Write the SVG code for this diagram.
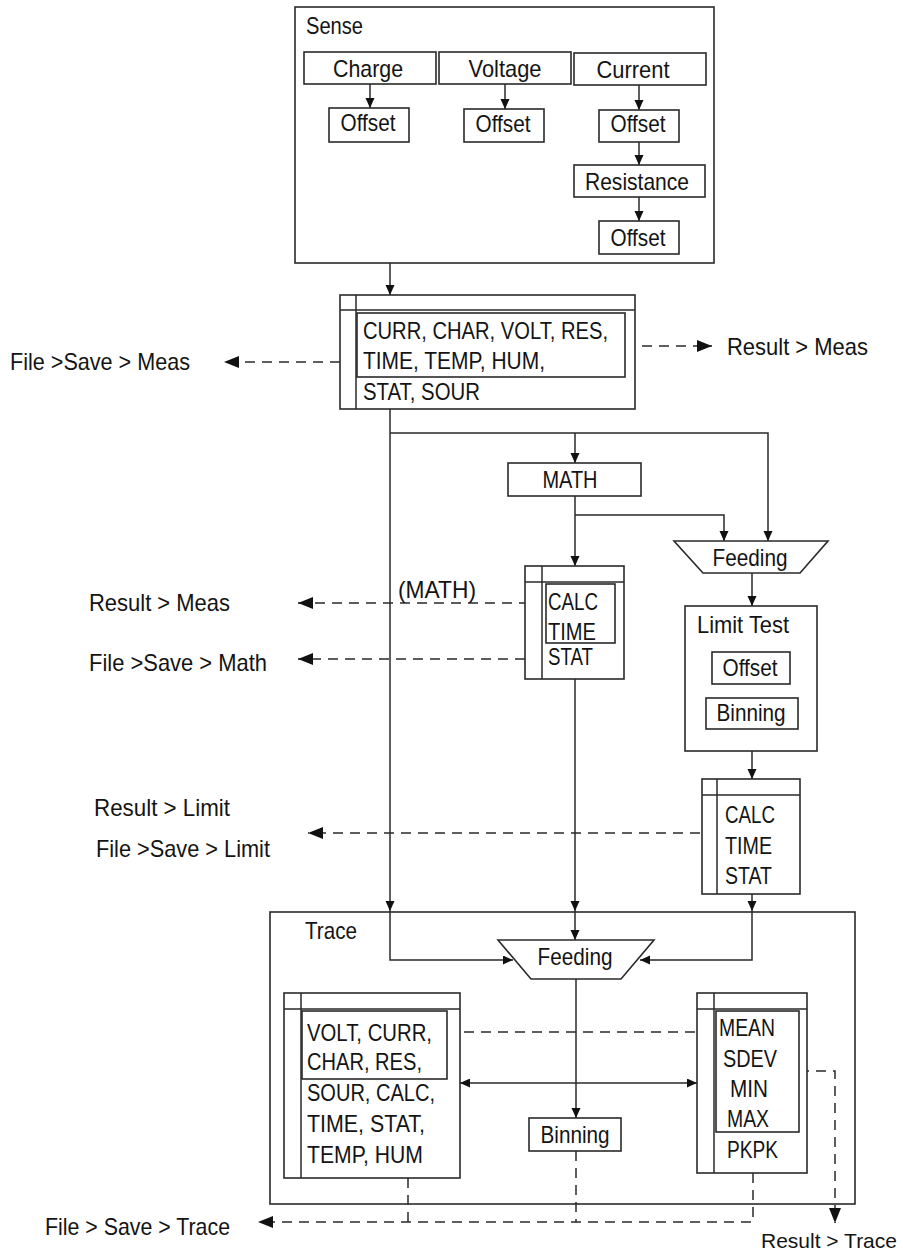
<svg xmlns="http://www.w3.org/2000/svg" width="903" height="1256" viewBox="0 0 903 1256">
<style>
text{font-family:"Liberation Sans",Arial,sans-serif;font-size:24px;fill:#141414}
.c{text-anchor:middle}
.box{fill:#fff;stroke:#2a2a2a;stroke-width:1.6}
.ln{fill:none;stroke:#2a2a2a;stroke-width:1.5}
.sl{fill:none;stroke:#2a2a2a;stroke-width:1.5;marker-end:url(#a)}
.dl{fill:none;stroke:#2a2a2a;stroke-width:1.5;stroke-dasharray:10 7}
</style>
<defs>
<marker id="a" markerUnits="userSpaceOnUse" markerWidth="10" markerHeight="10" refX="10" refY="4.5" orient="auto"><path d="M0,0 L10,4.5 L0,9 z" fill="#111"/></marker>
<marker id="as" markerUnits="userSpaceOnUse" markerWidth="10" markerHeight="10" refX="0" refY="4.5" orient="auto"><path d="M10,0 L0,4.5 L10,9 z" fill="#111"/></marker>
<marker id="b" markerUnits="userSpaceOnUse" markerWidth="16" markerHeight="13" refX="15" refY="6" orient="auto"><path d="M0,0 L15,6 L0,12 z" fill="#111"/></marker>
</defs>

<g id="connectors">
<path class="sl" d="M370,84 V108"/>
<path class="sl" d="M505,84 V109"/>
<path class="sl" d="M639,85 V110"/>
<path class="sl" d="M639,142 V165"/>
<path class="sl" d="M639,197 V221"/>
<path class="sl" d="M390,263 V295"/>
<path class="sl" d="M390,409 V911"/>
<path class="sl" d="M390,911 V960 H513"/>
<path class="sl" d="M390,433 H768 V541"/>
<path class="sl" d="M575,433 V463"/>
<path class="sl" d="M575,496 V566"/>
<path class="sl" d="M575,515 H724 V541"/>
<path class="sl" d="M575,679 V911"/>
<path class="sl" d="M575,911 V940"/>
<path class="sl" d="M752,573 V606"/>
<path class="sl" d="M752,751 V779"/>
<path class="sl" d="M752,894 V911"/>
<path class="sl" d="M752,911 V960 H640"/>
<path class="sl" d="M576,979 V1118"/>
<path class="ln" d="M460,1083 H697" marker-start="url(#as)" marker-end="url(#a)"/>
<path class="dl" d="M357,362 H224" marker-end="url(#b)"/>
<path class="dl" d="M625,346 H712" marker-end="url(#b)"/>
<path class="dl" d="M546,603 H298" marker-end="url(#b)"/>
<path class="dl" d="M542,659 H298" marker-end="url(#b)"/>
<path class="dl" d="M717,833 H308" marker-end="url(#b)"/>
<path class="dl" d="M447,1032 H713" marker-end="url(#b)"/>
<path class="dl" d="M799,1071 H835 V1223" marker-end="url(#b)"/>
<path class="dl" d="M408,1178 V1222"/>
<path class="dl" d="M576,1151 V1222"/>
<path class="dl" d="M753,1173 V1222 H258" marker-end="url(#b)"/>
</g>

<g id="sense">
<rect class="box" x="295" y="7" width="419" height="256" style="fill:none"/>
<text x="306" y="34" textLength="57" lengthAdjust="spacingAndGlyphs">Sense</text>
</g>
<g id="charge"><rect class="box" x="304" y="52" width="132" height="32"/><text class="c" x="368" y="77" textLength="70" lengthAdjust="spacingAndGlyphs">Charge</text></g>
<g id="voltage"><rect class="box" x="439" y="52" width="132" height="32"/><text class="c" x="505" y="77" textLength="73" lengthAdjust="spacingAndGlyphs">Voltage</text></g>
<g id="current"><rect class="box" x="574" y="53" width="132" height="32"/><text class="c" x="633" y="78" textLength="73" lengthAdjust="spacingAndGlyphs">Current</text></g>
<g id="offset-charge"><rect class="box" x="329" y="108" width="80" height="34"/><text class="c" x="368" y="131" textLength="55" lengthAdjust="spacingAndGlyphs">Offset</text></g>
<g id="offset-voltage"><rect class="box" x="464" y="109" width="80" height="33"/><text class="c" x="503" y="132" textLength="55" lengthAdjust="spacingAndGlyphs">Offset</text></g>
<g id="offset-current"><rect class="box" x="599" y="110" width="80" height="32"/><text class="c" x="638" y="132" textLength="55" lengthAdjust="spacingAndGlyphs">Offset</text></g>
<g id="resistance"><rect class="box" x="574" y="165" width="131" height="32"/><text class="c" x="637" y="190" textLength="104" lengthAdjust="spacingAndGlyphs">Resistance</text></g>
<g id="offset-resistance"><rect class="box" x="599" y="221" width="80" height="33"/><text class="c" x="638" y="246" textLength="55" lengthAdjust="spacingAndGlyphs">Offset</text></g>

<g id="meas-buffer">
<rect class="box" x="340" y="295" width="295" height="114"/>
<path class="ln" d="M356,295 V409 M340,310 H635"/>
<rect class="box" x="357" y="313" width="268" height="64" style="fill:none"/>
<text x="363" y="339" textLength="245" lengthAdjust="spacingAndGlyphs">CURR, CHAR, VOLT, RES,</text>
<text x="363" y="369" textLength="182" lengthAdjust="spacingAndGlyphs">TIME, TEMP, HUM,</text>
<text x="363" y="400" textLength="117" lengthAdjust="spacingAndGlyphs">STAT, SOUR</text>
</g>
<g id="label-file-save-meas"><text x="10" y="370" textLength="180" lengthAdjust="spacingAndGlyphs">File &gt;Save &gt; Meas</text></g>
<g id="label-result-meas-1"><text x="727" y="355" textLength="141" lengthAdjust="spacingAndGlyphs">Result &gt; Meas</text></g>

<g id="math"><rect class="box" x="508" y="463" width="133" height="33"/><text class="c" x="570" y="488" textLength="55" lengthAdjust="spacingAndGlyphs">MATH</text></g>
<g id="feeding-1"><path class="box" d="M674,541 H828 L800,573 H703 Z"/><text class="c" x="750" y="566" textLength="75" lengthAdjust="spacingAndGlyphs">Feeding</text></g>

<g id="math-buffer">
<rect class="box" x="525" y="566" width="99" height="113"/>
<path class="ln" d="M542,566 V679 M525,582 H624"/>
<rect class="box" x="546" y="584" width="69" height="59" style="fill:none"/>
<text x="548" y="610" textLength="50" lengthAdjust="spacingAndGlyphs">CALC</text>
<text x="548" y="640" textLength="48" lengthAdjust="spacingAndGlyphs">TIME</text>
<text x="548" y="665" textLength="45" lengthAdjust="spacingAndGlyphs">STAT</text>
</g>
<g id="label-math"><text x="398" y="598" textLength="78" lengthAdjust="spacingAndGlyphs">(MATH)</text></g>
<g id="label-result-meas-2"><text x="89" y="611" textLength="141" lengthAdjust="spacingAndGlyphs">Result &gt; Meas</text></g>
<g id="label-file-save-math"><text x="89" y="671" textLength="178" lengthAdjust="spacingAndGlyphs">File &gt;Save &gt; Math</text></g>

<g id="limit-test">
<rect class="box" x="685" y="606" width="132" height="145"/>
<text x="697" y="633" textLength="92" lengthAdjust="spacingAndGlyphs">Limit Test</text>
<rect class="box" x="712" y="652" width="78" height="32"/>
<text class="c" x="750" y="676" textLength="55" lengthAdjust="spacingAndGlyphs">Offset</text>
<rect class="box" x="706" y="698" width="92" height="31"/>
<text class="c" x="751" y="721" textLength="69" lengthAdjust="spacingAndGlyphs">Binning</text>
</g>

<g id="limit-buffer">
<rect class="box" x="702" y="779" width="98" height="115"/>
<path class="ln" d="M717,779 V894 M702,795 H800"/>
<text x="725" y="823" textLength="50" lengthAdjust="spacingAndGlyphs">CALC</text>
<text x="725" y="854" textLength="47" lengthAdjust="spacingAndGlyphs">TIME</text>
<text x="725" y="884" textLength="47" lengthAdjust="spacingAndGlyphs">STAT</text>
</g>
<g id="label-result-limit"><text x="94" y="816" textLength="136" lengthAdjust="spacingAndGlyphs">Result &gt; Limit</text></g>
<g id="label-file-save-limit"><text x="96" y="857" textLength="174" lengthAdjust="spacingAndGlyphs">File &gt;Save &gt; Limit</text></g>

<g id="trace">
<rect class="box" x="270" y="912" width="585" height="292" style="fill:none"/>
<text x="305" y="939" textLength="52" lengthAdjust="spacingAndGlyphs">Trace</text>
</g>
<g id="feeding-2"><path class="box" d="M498,940 H654 L621,979 H531 Z"/><text class="c" x="575" y="965" textLength="75" lengthAdjust="spacingAndGlyphs">Feeding</text></g>

<g id="trace-buffer">
<rect class="box" x="284" y="993" width="176" height="185"/>
<path class="ln" d="M301,993 V1178 M284,1009 H460"/>
<rect class="box" x="302" y="1011" width="145" height="68" style="fill:none"/>
<text x="307" y="1041" textLength="125" lengthAdjust="spacingAndGlyphs">VOLT, CURR,</text>
<text x="307" y="1070" textLength="115" lengthAdjust="spacingAndGlyphs">CHAR, RES,</text>
<text x="307" y="1101" textLength="128" lengthAdjust="spacingAndGlyphs">SOUR, CALC,</text>
<text x="307" y="1132" textLength="118" lengthAdjust="spacingAndGlyphs">TIME, STAT,</text>
<text x="307" y="1163" textLength="116" lengthAdjust="spacingAndGlyphs">TEMP, HUM</text>
</g>

<g id="stat-buffer">
<rect class="box" x="697" y="993" width="110" height="180"/>
<path class="ln" d="M714,993 V1173 M697,1009 H807"/>
<rect class="box" x="716" y="1011" width="83" height="121" style="fill:none"/>
<text x="719" y="1036" textLength="56" lengthAdjust="spacingAndGlyphs">MEAN</text>
<text x="723" y="1067" textLength="54" lengthAdjust="spacingAndGlyphs">SDEV</text>
<text x="730" y="1097" textLength="38" lengthAdjust="spacingAndGlyphs">MIN</text>
<text x="727" y="1127" textLength="42" lengthAdjust="spacingAndGlyphs">MAX</text>
<text x="727" y="1158" textLength="51" lengthAdjust="spacingAndGlyphs">PKPK</text>
</g>

<g id="binning-trace"><rect class="box" x="529" y="1118" width="92" height="33"/><text class="c" x="575" y="1143" textLength="69" lengthAdjust="spacingAndGlyphs">Binning</text></g>

<g id="label-file-save-trace"><text x="45" y="1235" textLength="185" lengthAdjust="spacingAndGlyphs">File &gt; Save &gt; Trace</text></g>
<g id="label-result-trace"><text x="761" y="1248" style="font-size:21px">Result &gt; Trace</text></g>
</svg>
